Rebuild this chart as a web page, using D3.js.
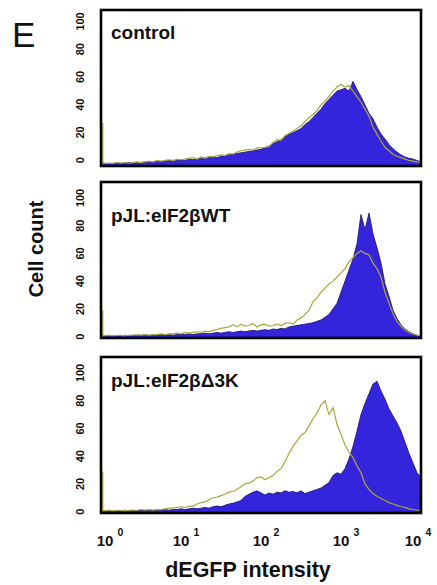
<!DOCTYPE html>
<html>
<head>
<meta charset="utf-8">
<script src="https://cdn.jsdelivr.net/npm/d3@7"></script>
<style>
  body { margin: 0; background: #fff; }
  .chart { width: 437px; height: 585px; }
  text { font-family: "Liberation Sans", Arial, Helvetica, sans-serif; fill: #111; }
</style>
</head>
<body>
<div class="chart"></div>
<script>
//Histogram bins: one every 0.05 decade of dEGFP intensity, from 10^0 to 10^4 (81 bins)
const binStep = 0.05;

const panelNames = ["control", "pJL:eIF2βWT", "pJL:eIF2βΔ3K"];
const xTicks = [1, 10, 100, 1000, 10000];
const xTickExp = ["0", "1", "2", "3", "4"];
const yTicks = [0, 20, 40, 60, 80, 100];

//pile-up in the very first channel of the open (yellow) histogram
const firstChannel = [30, 19, 29];

//filled (blue) histograms, cell count per bin
const controlFilled = [1, 0.5, 1, 0.5, 1, 1, 1, 1.5, 1, 1.5,
  1.5, 2, 1.5, 2, 2.5, 2, 2.5, 3, 2.5, 3,
  3.5, 3, 4, 3.5, 4, 4.5, 4, 5, 5.5, 5,
  6, 6.5, 7, 7.5, 8, 8.5, 9, 9.5, 10, 10.5,
  11, 12, 13.5, 15, 16.5, 18, 20, 22, 23, 24.5,
  26, 29, 31, 34, 37, 40, 44, 47, 50, 53,
  54, 55, 53, 60, 54, 49, 43, 37, 33, 27,
  22, 18.5, 14.5, 11.5, 9, 7, 5.5, 4.5, 4, 3,
  2];
const wtFilled = [0.5, 0.5, 0.5, 0.5, 0.5, 0.5, 1, 0.5, 1, 0.5,
  1, 1, 1, 1, 1, 1.5, 1, 1.5, 1, 1.5,
  1.5, 1.5, 2, 1.5, 2, 2, 2.5, 2, 2.5, 3,
  2.5, 3, 3.5, 3, 3.5, 4, 3.5, 4, 4.5, 4,
  4.5, 5, 4.5, 5.5, 5, 6, 5.5, 7, 7.5, 8,
  8.5, 9, 9.5, 10, 11, 12, 14, 16, 20, 24,
  32, 40, 48, 56, 67, 88, 77, 89, 74, 64,
  53, 38, 29, 19, 13, 8.5, 5.5, 3.5, 2, 1,
  0.5];
const d3kFilled = [0.5, 0.5, 0.5, 0.5, 0.5, 0.5, 1, 0.5, 1, 0.5,
  1, 1, 1, 1, 1, 1, 1.5, 1, 1.5, 1.5,
  2, 1.5, 2, 2.5, 2, 2.5, 3, 2.5, 3.5, 4,
  3.5, 4.5, 5.5, 6, 7, 8, 11, 12.5, 14, 15,
  13.5, 12, 13.5, 12.5, 14, 13.5, 15, 14, 14.5, 13.5,
  15, 13, 14, 15, 16, 17, 19, 21, 26, 28,
  27, 31, 38, 47, 58, 70, 78, 85, 92, 94,
  87, 81, 74, 69, 64, 58, 50, 42, 35, 28,
  25];

//open (yellow) histograms
const controlOpen = [2, 1, 1, 1, 1.5, 1, 1.5, 1, 1.5, 2,
  1.5, 2, 2.5, 2, 3, 2.5, 3, 3.5, 3, 4,
  3.5, 4, 4.5, 5, 4, 5.5, 5, 6, 5.5, 6.5,
  7, 6.5, 8, 7.5, 9, 10, 10.5, 11, 10.5, 12,
  12, 12.5, 13, 16, 18, 17.5, 21, 22.5, 24, 26,
  28, 31, 34, 36, 39, 43, 46, 49, 53, 56,
  58, 56, 57, 53, 49, 45, 40, 35, 27, 22,
  17, 12.5, 10, 7.5, 6, 5, 4, 3, 2.5, 2,
  1.5];
const wtOpen = [1, 0.5, 1, 0.5, 1, 1, 0.5, 1, 1, 1.5,
  1, 1.5, 1, 1.5, 1.5, 2, 1.5, 2, 2, 2.5,
  2, 3, 2.5, 3, 3.5, 3, 4, 3.5, 4.5, 5,
  6, 6.5, 7, 8.5, 7, 9, 7.5, 8, 9.5, 7,
  8.5, 9, 7.5, 8, 9, 8, 9.5, 10, 9, 12,
  13.5, 16, 19, 25, 28, 32, 35, 38, 40, 43,
  46, 49, 54, 57, 60, 62, 60, 59, 53, 49,
  43, 32, 24, 16.5, 11, 7.5, 5, 3, 2, 1,
  0.5];
const d3kOpen = [1, 0.5, 1, 0.5, 1, 1, 0.5, 1, 1, 1,
  1.5, 1, 1.5, 1, 1.5, 1.5, 2, 2.5, 2.5, 3,
  3.5, 3, 4, 4, 5.5, 6.5, 7, 8.5, 10, 10.5,
  11.5, 12.5, 14, 14.5, 16, 18, 20, 20.5, 22, 24.5,
  25, 23, 24.5, 26, 29, 31, 36, 42, 47, 51,
  55, 57, 62, 67, 71, 77, 80, 70, 75, 63,
  56, 48, 43, 39, 33, 28, 20, 16, 13, 11,
  9.5, 8, 6.5, 5.5, 4.5, 3.5, 3, 2, 1.5, 1,
  1];

const filledSeries = [controlFilled, wtFilled, d3kFilled];
const openSeries = [controlOpen, wtOpen, d3kOpen];


let chart = {};

init();

function init() {
    chart.panels = panelNames.map((name, i) => ({
        name: name,
        filled: filledSeries[i],
        open: openSeries[i],
        spike: firstChannel[i],
        index: i
    }));

    setDimensions();
    setScales();
    appendElements();
}


function setDimensions() {
    chart.left = 101;
    chart.width = 320;
    chart.panelHeight = 156;
    chart.panelTops = [10, 182, 357];
    //baseline of the panel name, below the frame top
    chart.nameDy = [29, 40, 30];
    //the first panel's count labels sit a little higher in the original
    chart.tickDy = [-4.5, 0, 0];
}


function setScales() {
    chart.x = d3.scaleLog()
        .domain([xTicks[0], xTicks[xTicks.length - 1]])
        .range([0, chart.width]);

    chart.y = d3.scaleLinear()
        .domain([-1, 111.5])
        .range([chart.panelHeight, 0]);

    chart.binX = (d, i) => chart.x(Math.pow(10, i * binStep));

    chart.area = d3.area()
        .x(chart.binX)
        .y0(chart.panelHeight)
        .y1(d => chart.y(d));

    chart.line = d3.line()
        .x(chart.binX)
        .y(d => chart.y(d));
}


function appendElements() {
    chart.svg = d3.select(".chart").append("svg")
        .attr("width", 437)
        .attr("height", 585);

    chart.svg.append("defs").append("clipPath")
        .attr("id", "plot-clip")
        .append("rect")
        .attr("width", chart.width)
        .attr("height", chart.panelHeight);

    //panel letter
    chart.svg.append("text")
        .attr("x", 12)
        .attr("y", 47)
        .style("font-size", "35px")
        .text("E");

    let panel = chart.svg.selectAll("g.panel")
        .data(chart.panels).enter()
        .append("g")
        .attr("class", "panel")
        .attr("transform", d => `translate(${chart.left},${chart.panelTops[d.index]})`);

    let plot = panel.append("g").attr("clip-path", "url(#plot-clip)");

    plot.append("path")
        .attr("d", d => chart.area(d.filled))
        .style("fill", "#3424dc");

    plot.append("path")
        .attr("d", d => chart.line(d.filled))
        .style("fill", "none")
        .style("stroke", "#211a78")
        .style("stroke-width", 0.9);

    plot.append("path")
        .attr("d", d => chart.line(d.open))
        .style("fill", "none")
        .style("stroke", "#a9a83a")
        .style("stroke-width", 1.2);

    plot.append("line")
        .attr("x1", chart.x(xTicks[0]) + 1.8)
        .attr("x2", chart.x(xTicks[0]) + 1.8)
        .attr("y1", chart.y(0))
        .attr("y2", d => chart.y(d.spike))
        .style("stroke", "#a9a83a")
        .style("stroke-width", 1.2);

    panel.append("rect")
        .attr("width", chart.width)
        .attr("height", chart.panelHeight)
        .style("fill", "none")
        .style("stroke", "#000")
        .style("stroke-width", 2.6);

    panel.append("text")
        .attr("x", 10)
        .attr("y", d => chart.nameDy[d.index])
        .style("font-size", "19px")
        .style("font-weight", "bold")
        .text(d => d.name);

    //rotated count labels
    panel.each(function(p) {
        d3.select(this).selectAll("text.ytick")
            .data(yTicks).enter()
            .append("text")
            .attr("class", "ytick")
            .attr("transform", v => `translate(-17,${chart.y(v) + chart.tickDy[p.index]}) rotate(-90)`)
            .attr("text-anchor", "middle")
            .style("font-size", "11px")
            .style("font-weight", "bold")
            .text(v => v);
    });

    //intensity labels under the last panel
    let nudge = [4, 0, 0, 0, -8];
    let xLabels = chart.svg.append("g")
        .attr("transform", `translate(${chart.left},546)`)
        .selectAll("text")
        .data(xTicks).enter()
        .append("text")
        .attr("x", (v, i) => chart.x(v) - 8.3 + nudge[i])
        .style("font-size", "15px")
        .style("font-weight", "bold");

    xLabels.append("tspan").text("10");
    xLabels.append("tspan")
        .attr("dx", 4)
        .attr("dy", -10)
        .style("font-size", "10.5px")
        .text((v, i) => xTickExp[i]);

    chart.svg.append("text")
        .attr("x", 248)
        .attr("y", 577)
        .attr("text-anchor", "middle")
        .style("font-size", "21.5px")
        .style("font-weight", "bold")
        .text("dEGFP intensity");

    chart.svg.append("text")
        .attr("transform", "translate(43,249) rotate(-90)")
        .attr("text-anchor", "middle")
        .style("font-size", "20px")
        .style("font-weight", "bold")
        .text("Cell count");
}
</script>
</body>
</html>
